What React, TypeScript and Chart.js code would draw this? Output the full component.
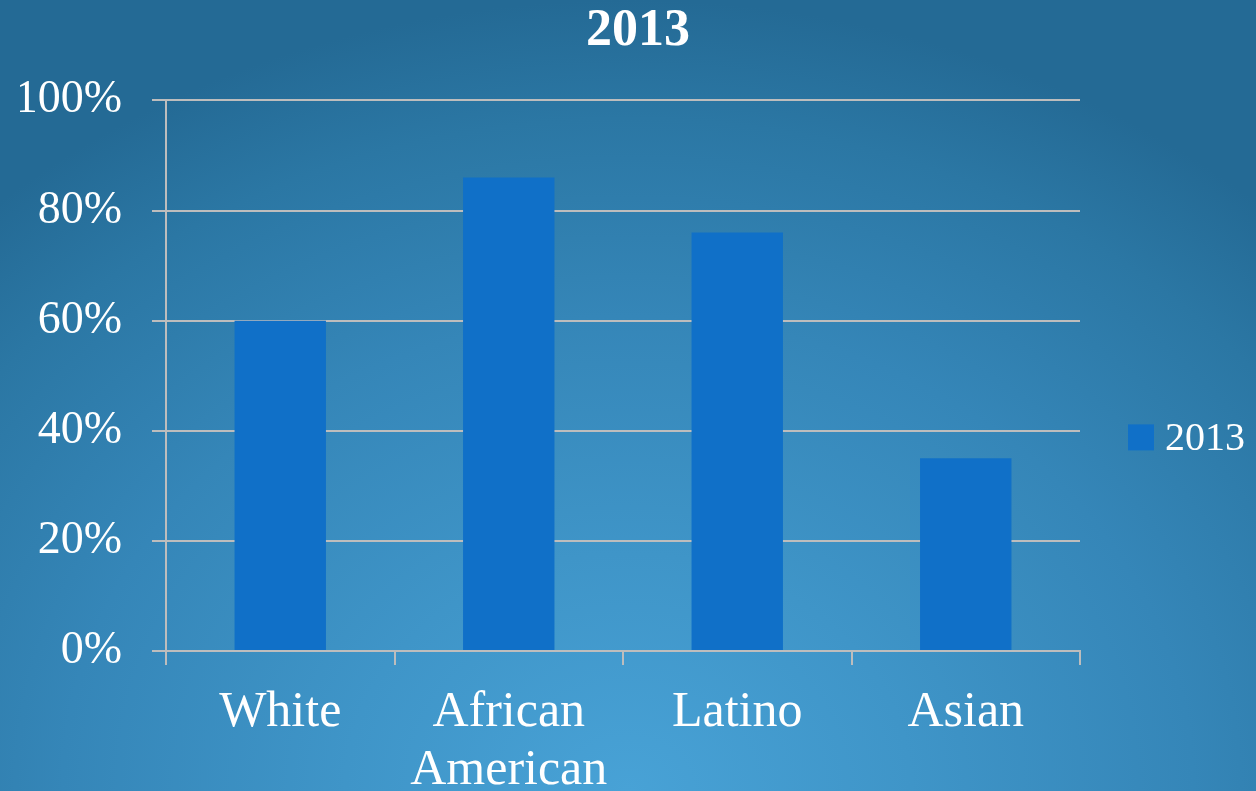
import React, { useEffect, useRef } from 'react';
import { Chart, registerables } from 'chart.js';

Chart.register(...registerables);

const categories: string[][] = [['White'], ['African', 'American'], ['Latino'], ['Asian']];
const values: number[] = [60, 86, 76, 35];
const seriesLabel = '2013';
const titleText = '2013';
const yMin = 0;
const yMax = 100;
const yStep = 20;

const FONT = '"Liberation Serif", "DejaVu Serif", serif';
const GRID = '#bdbdbd';
const BAR = '#1070c8';

const legendPlugin = {
  id: 'customLegend',
  afterDraw(chart: any) {
    const { ctx, chartArea } = chart;
    const ds = chart.data.datasets[0];
    const bx = chartArea.right + 48;
    const cy = chartArea.top + 337;
    ctx.save();
    ctx.fillStyle = ds.backgroundColor;
    ctx.fillRect(bx, cy - 13, 26, 26);
    ctx.fillStyle = '#ffffff';
    ctx.font = `40px ${FONT}`;
    ctx.textAlign = 'left';
    ctx.textBaseline = 'middle';
    ctx.fillText(ds.label, bx + 37, cy + 2);
    ctx.restore();
  },
};

export default function App() {
  const ref = useRef<HTMLCanvasElement | null>(null);

  useEffect(() => {
    if (!ref.current) return;
    const chart = new Chart(ref.current, {
      type: 'bar',
      data: {
        labels: categories,
        datasets: [
          {
            label: seriesLabel,
            data: values,
            backgroundColor: BAR,
            barPercentage: 0.8,
            categoryPercentage: 0.5,
          },
        ],
      },
      plugins: [legendPlugin],
      options: {
        responsive: false,
        animation: false,
        layout: { padding: { left: 20, right: 0, top: 0, bottom: 0 } },
        plugins: {
          legend: { display: false },
          tooltip: { enabled: false },
          title: {
            display: true,
            text: titleText,
            color: '#ffffff',
            font: { family: FONT, size: 52, weight: 'bold', lineHeight: 1.2 },
            padding: { top: 0, bottom: 38 },
          },
        },
        scales: {
          x: {
            grid: {
              display: true,
              drawOnChartArea: false,
              drawTicks: true,
              tickLength: 14,
              color: GRID,
              lineWidth: 2,
              offset: true,
            },
            border: { display: true, color: GRID, width: 2 },
            ticks: {
              color: '#ffffff',
              font: { family: FONT, size: 50, lineHeight: 1.16 },
              padding: 19,
              maxRotation: 0,
              autoSkip: false,
            },
            afterFit: (s: any) => {
              s.height = 140;
            },
          },
          y: {
            min: yMin,
            max: yMax,
            grid: {
              color: GRID,
              lineWidth: 2,
              tickLength: 14,
              drawTicks: true,
            },
            border: { display: true, color: GRID, width: 2 },
            ticks: {
              stepSize: yStep,
              color: '#ffffff',
              font: { family: FONT, size: 46 },
              padding: 30,
              callback: (v: any) => `${v}%`,
            },
            afterFit: (s: any) => {
              s.width = 146;
            },
          },
          yRight: {
            position: 'right',
            display: true,
            grid: { display: false },
            border: { display: false },
            ticks: { display: false },
            afterFit: (s: any) => {
              s.width = 176;
            },
          },
        },
      },
    } as any);
    return () => chart.destroy();
  }, []);

  return (
    <div
      style={{
        position: 'absolute',
        left: 0,
        top: 0,
        width: 1256,
        height: 791,
        background:
          'radial-gradient(ellipse 75% 100% at 50% 100%, #48a2d6 0%, #3f95c8 30%, #3586b8 60%, #2b77a4 85%, #246a95 100%)',
      }}
    >
      <canvas ref={ref} width={1256} height={791} style={{ display: 'block' }} />
    </div>
  );
}
